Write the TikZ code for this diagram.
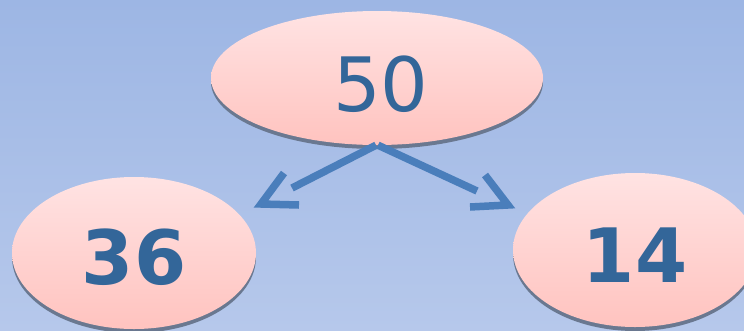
\documentclass[tikz,border=0pt]{standalone}
\usepackage{fontspec}
\setmainfont{DejaVu Sans}
\usetikzlibrary{shapes.geometric,shadows}
\definecolor{bgtop}{HTML}{9DB6E4}
\definecolor{bgbot}{HTML}{B6C8EB}
\definecolor{elltop}{HTML}{FFE3E3}
\definecolor{ellbot}{HTML}{FFC3BF}
\definecolor{numc}{HTML}{336699}
\definecolor{arrc}{HTML}{4A7EBB}
\definecolor{shad}{HTML}{6A7890}
\tikzset{
  oval/.style={ellipse, inner sep=0pt, top color=elltop, bottom color=ellbot, draw=none,
    drop shadow={shadow xshift=0pt, shadow yshift=-4pt, fill=shad, opacity=1}},
  numtxt/.style={text=numc, font=\fontsize{75}{78}\selectfont},
  boldnum/.style={text=numc, font=\fontsize{75}{78}\selectfont\bfseries},
  conn/.style={draw=arrc, line width=7.5pt},
  chev/.style={draw=arrc, line width=7.5pt, line join=miter}
}
\begin{document}
\begin{tikzpicture}[x=1pt,y=-1pt]
\useasboundingbox (0,0) rectangle (744,330);
\clip (0,0) rectangle (744,330);
\shade[top color=bgtop, bottom color=bgbot] (0,0) rectangle (744,330);
\node[oval, minimum width=332pt, minimum height=134pt] (top) at (377,78) {};
\node[numtxt, anchor=base] (t50) at (381,111) {50};
\node[oval, minimum width=244pt, minimum height=152pt] (left) at (134,253) {};
\node[boldnum, anchor=base] (t36) at (134,284) {36};
\node[oval, minimum width=244pt, minimum height=154pt] (right) at (635,250) {};
\node[boldnum, anchor=base] (t14) at (635,282) {14};
\coordinate (lend) at (292,188);
\coordinate (la1) at (284,173);
\coordinate (ltip) at (261,204);
\coordinate (la2) at (299,205);
\coordinate (rend) at (477,191);
\coordinate (ra1) at (485,175);
\coordinate (rtip) at (508,205);
\coordinate (ra2) at (470,207);
\draw[conn] ([xshift=-1pt]top.south) -- (lend);
\draw[conn] ([xshift=1pt]top.south) -- (rend);
\draw[chev] (la1) -- (ltip) -- (la2);
\draw[chev] (ra1) -- (rtip) -- (ra2);
\end{tikzpicture}
\end{document}
